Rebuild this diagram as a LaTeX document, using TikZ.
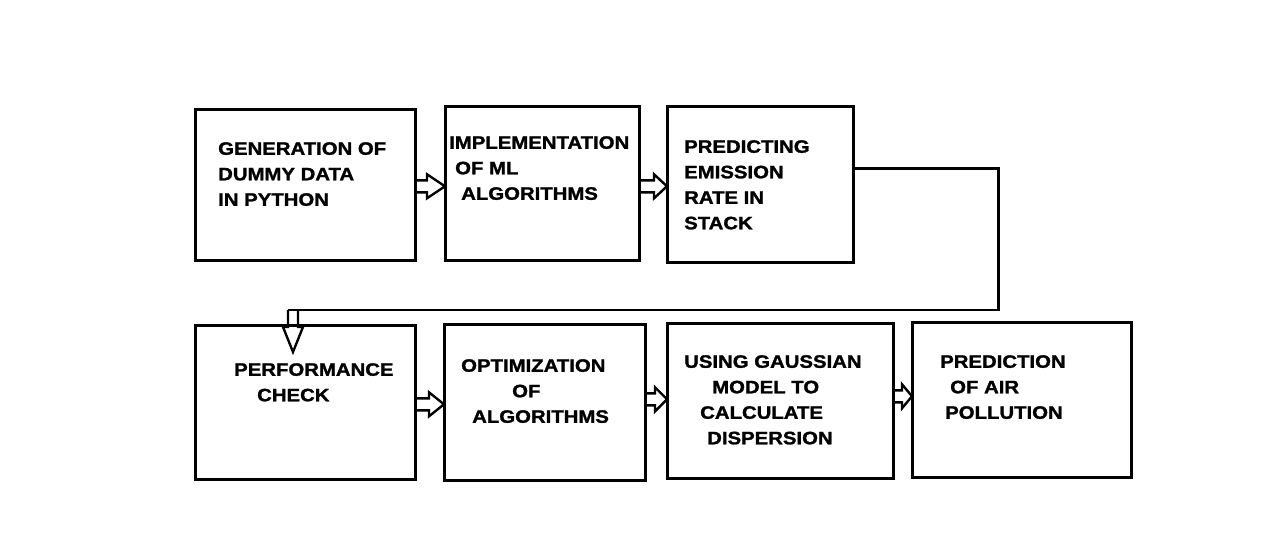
\documentclass[tikz,border=0pt]{standalone}
\usepackage{fontspec}
\setmainfont{Liberation Sans}
\newfontfamily\boxfont{Liberation Sans Bold}[FakeStretch=1.13,FakeBold=1.4]
\usetikzlibrary{calc}
\tikzset{
  box/.style={draw, line width=2.6pt, inner sep=0pt, anchor=north west},
  txt/.style={anchor=north west, inner sep=0pt, align=left, font=\fontsize{18}{25.5}\selectfont\boxfont},
  harrow/.style={draw, line width=2.4pt, line join=miter},
  conn/.style={draw, line width=2.4pt},
}
% hollow right arrow: source, target, head length, y offset
\newcommand\hollowR[4]{%
  \draw[harrow] ($(#1.east)+(0,#4-6)$) -- ($(#2.west |- #1.east)+(-#3,#4-6)$)
    -- ($(#2.west |- #1.east)+(-#3,#4-12)$) -- ($(#2.west |- #1.east)+(1,#4)$)
    -- ($(#2.west |- #1.east)+(-#3,#4+12)$) -- ($(#2.west |- #1.east)+(-#3,#4+6)$)
    -- ($(#1.east)+(0,#4+6)$);}
\begin{document}
\begin{tikzpicture}[x=1pt,y=-1pt]
\useasboundingbox (0,0) rectangle (1280,541);
% boxes
\node[box, minimum width=220pt, minimum height=151pt] (b1) at (194,108) {};
\node[box, minimum width=194pt, minimum height=154pt] (b2) at (444,105) {};
\node[box, minimum width=186pt, minimum height=156pt] (b3) at (666,105) {};
\node[box, minimum width=220pt, minimum height=154pt] (b4) at (194,324) {};
\node[box, minimum width=201pt, minimum height=156pt] (b5) at (443,323) {};
\node[box, minimum width=226pt, minimum height=155pt] (b6) at (666,322) {};
\node[box, minimum width=219pt, minimum height=155pt] (b7) at (911,321) {};
% texts
\node[txt] (t1) at (218,142) {GENERATION OF\\DUMMY DATA\\IN PYTHON};
\node[txt] (t2) at (449,136) {IMPLEMENTATION\\\hspace*{6pt}OF ML\\\hspace*{12pt}ALGORITHMS};
\node[txt] (t3) at (684,140) {PREDICTING\\EMISSION\\RATE IN\\STACK};
\node[txt] (t4) at (234,363) {PERFORMANCE\\\hspace*{23pt}CHECK};
\node[txt] (t5) at (461,359) {OPTIMIZATION\\\hspace*{51pt}OF\\\hspace*{11pt}ALGORITHMS};
\node[txt] (t6) at (684,355) {USING GAUSSIAN\\\hspace*{28pt}MODEL TO\\\hspace*{16pt}CALCULATE\\\hspace*{23pt}DISPERSION};
\node[txt] (t7) at (940,355) {PREDICTION\\\hspace*{10pt}OF AIR\\\hspace*{5pt}POLLUTION};
% hollow arrows
\hollowR{b1}{b2}{17}{1.5}
\hollowR{b2}{b3}{12}{3}
\hollowR{b4}{b5}{14}{2}
\hollowR{b5}{b6}{11}{-3}
\hollowR{b6}{b7}{9}{-4.5}
% connector from stack box down to performance check
\coordinate (start) at ($(b3.east)+(0,-16)$);
\coordinate (corner) at ($(start)+(144,0)$);
\coordinate (dn) at (288,310);
\draw[conn] (start) -- (corner) |- (dn);
\draw[harrow] (dn) -- ++(0,17) -- ++(-5,0) -- ++(10,25) -- ++(10,-25) -- ++(-5,0) -- ++(0,-17);
\end{tikzpicture}
\end{document}
